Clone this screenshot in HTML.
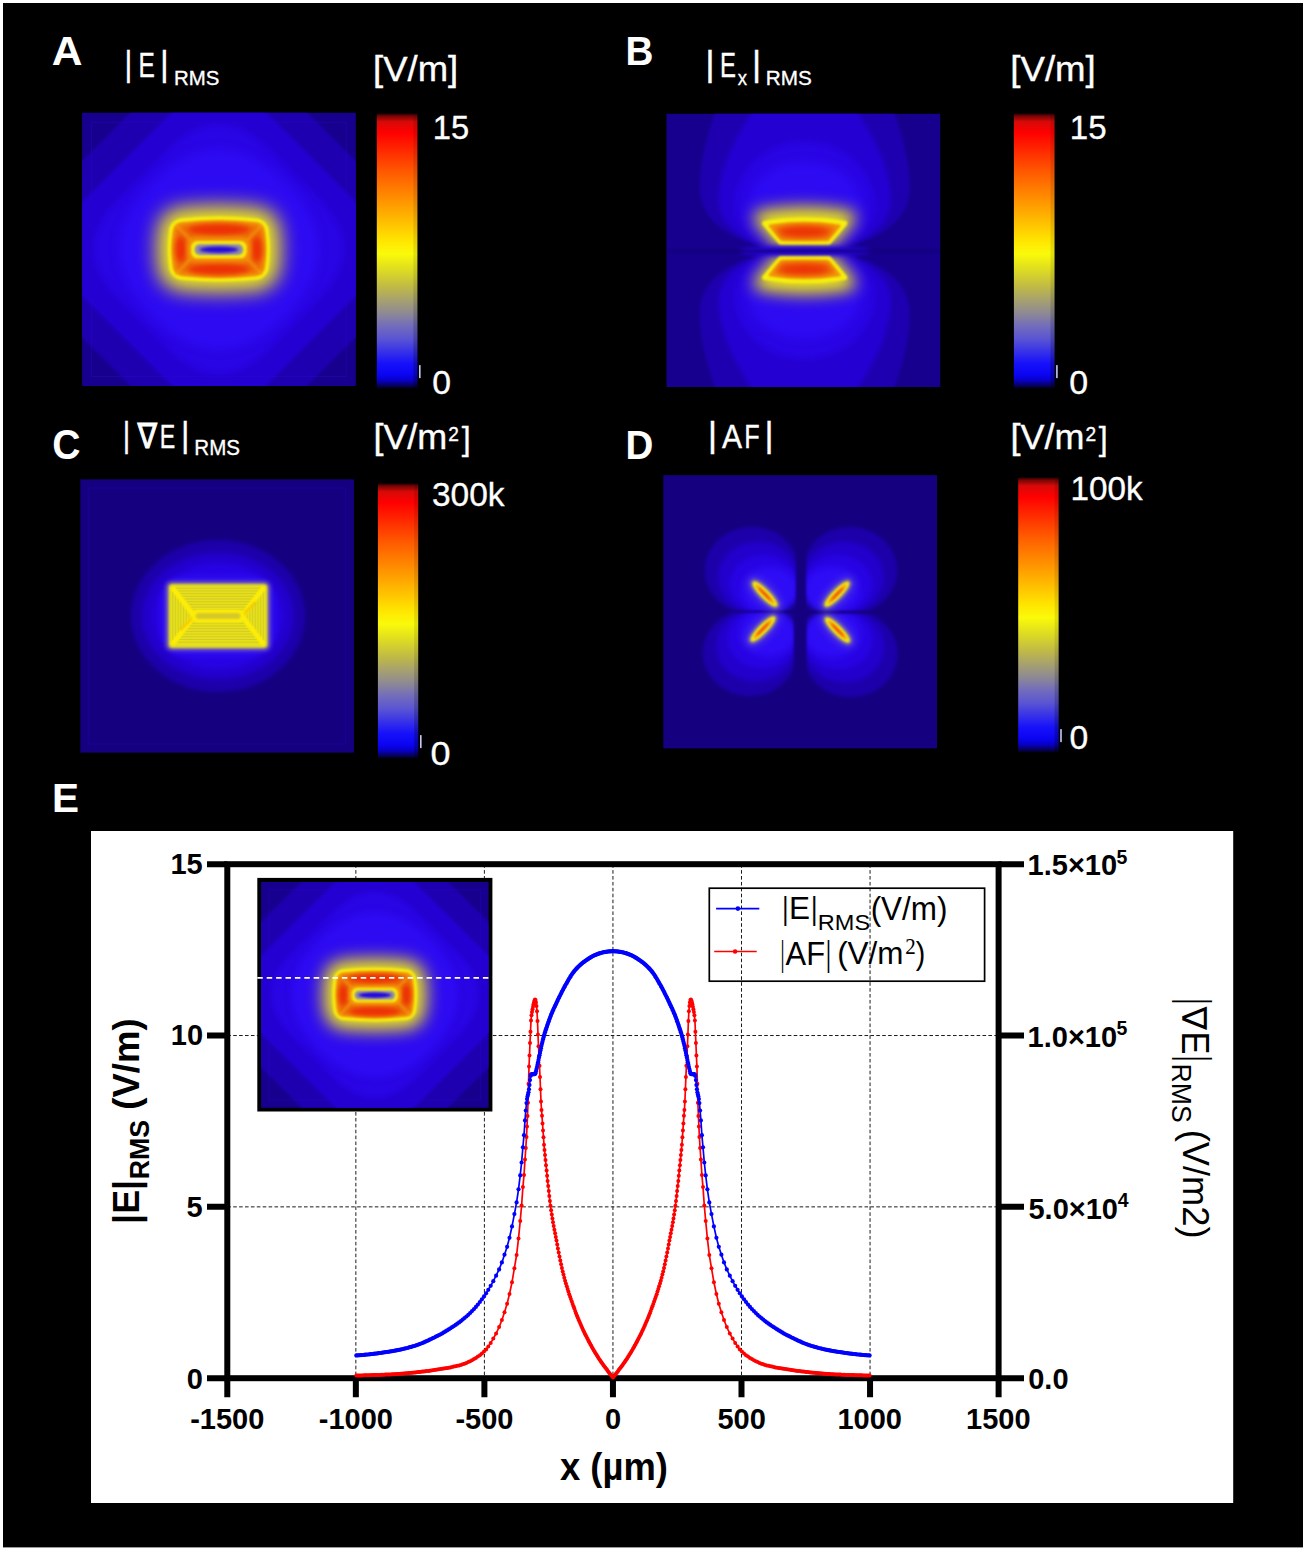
<!DOCTYPE html>
<html lang="en"><head><meta charset="utf-8"><title>Figure</title>
<style>html,body{margin:0;padding:0;background:#fff;}svg{display:block;}text{white-space:pre;}</style></head><body>
<svg width="1306" height="1550" viewBox="0 0 1306 1550">
<defs><linearGradient id="cb" x1="0" y1="0" x2="0" y2="1"><stop offset="0" stop-color="rgb(40,0,0)"/><stop offset="0.01" stop-color="rgb(120,5,5)"/><stop offset="0.03" stop-color="rgb(215,10,8)"/><stop offset="0.07" stop-color="rgb(255,0,0)"/><stop offset="0.13" stop-color="rgb(255,38,0)"/><stop offset="0.21" stop-color="rgb(255,88,0)"/><stop offset="0.3" stop-color="rgb(255,138,0)"/><stop offset="0.39" stop-color="rgb(255,188,0)"/><stop offset="0.46" stop-color="rgb(255,228,0)"/><stop offset="0.51" stop-color="rgb(250,250,10)"/><stop offset="0.56" stop-color="rgb(226,224,30)"/><stop offset="0.63" stop-color="rgb(192,186,70)"/><stop offset="0.68" stop-color="rgb(166,160,112)"/><stop offset="0.73" stop-color="rgb(140,135,150)"/><stop offset="0.77" stop-color="rgb(116,110,186)"/><stop offset="0.82" stop-color="rgb(90,84,212)"/><stop offset="0.87" stop-color="rgb(52,46,235)"/><stop offset="0.91" stop-color="rgb(22,16,250)"/><stop offset="0.95" stop-color="rgb(10,4,242)"/><stop offset="0.97" stop-color="rgb(8,0,200)"/><stop offset="0.99" stop-color="rgb(6,0,90)"/><stop offset="1" stop-color="rgb(0,0,20)"/></linearGradient><linearGradient id="cbsh" x1="0" y1="0" x2="0" y2="1"><stop offset="0" stop-color="#000" stop-opacity="0.12"/><stop offset="0.6" stop-color="#000" stop-opacity="0.1"/><stop offset="1" stop-color="#000" stop-opacity="0.3"/></linearGradient><filter id="b08" filterUnits="userSpaceOnUse" x="-320" y="-320" width="960" height="960" color-interpolation-filters="sRGB"><feGaussianBlur stdDeviation="0.8"/></filter><filter id="b1" filterUnits="userSpaceOnUse" x="-320" y="-320" width="960" height="960" color-interpolation-filters="sRGB"><feGaussianBlur stdDeviation="1.0"/></filter><filter id="b13" filterUnits="userSpaceOnUse" x="-320" y="-320" width="960" height="960" color-interpolation-filters="sRGB"><feGaussianBlur stdDeviation="1.3"/></filter><filter id="b16" filterUnits="userSpaceOnUse" x="-320" y="-320" width="960" height="960" color-interpolation-filters="sRGB"><feGaussianBlur stdDeviation="1.6"/></filter><filter id="b2" filterUnits="userSpaceOnUse" x="-320" y="-320" width="960" height="960" color-interpolation-filters="sRGB"><feGaussianBlur stdDeviation="2.0"/></filter><filter id="b25" filterUnits="userSpaceOnUse" x="-320" y="-320" width="960" height="960" color-interpolation-filters="sRGB"><feGaussianBlur stdDeviation="2.5"/></filter><filter id="b3" filterUnits="userSpaceOnUse" x="-320" y="-320" width="960" height="960" color-interpolation-filters="sRGB"><feGaussianBlur stdDeviation="3.0"/></filter><filter id="b4" filterUnits="userSpaceOnUse" x="-320" y="-320" width="960" height="960" color-interpolation-filters="sRGB"><feGaussianBlur stdDeviation="4.0"/></filter><filter id="b5" filterUnits="userSpaceOnUse" x="-320" y="-320" width="960" height="960" color-interpolation-filters="sRGB"><feGaussianBlur stdDeviation="5.0"/></filter><filter id="b6" filterUnits="userSpaceOnUse" x="-320" y="-320" width="960" height="960" color-interpolation-filters="sRGB"><feGaussianBlur stdDeviation="6.0"/></filter><filter id="b8" filterUnits="userSpaceOnUse" x="-320" y="-320" width="960" height="960" color-interpolation-filters="sRGB"><feGaussianBlur stdDeviation="8.0"/></filter><filter id="b10" filterUnits="userSpaceOnUse" x="-320" y="-320" width="960" height="960" color-interpolation-filters="sRGB"><feGaussianBlur stdDeviation="10.0"/></filter><filter id="b12" filterUnits="userSpaceOnUse" x="-320" y="-320" width="960" height="960" color-interpolation-filters="sRGB"><feGaussianBlur stdDeviation="12.0"/></filter><filter id="b18" filterUnits="userSpaceOnUse" x="-320" y="-320" width="960" height="960" color-interpolation-filters="sRGB"><feGaussianBlur stdDeviation="18.0"/></filter><clipPath id="cpH"><rect x="0" y="0" width="273.7" height="273.2"/></clipPath><g id="hmA"><rect x="0" y="0" width="273.7" height="273.2" fill="#17008e"/><g clip-path="url(#cpH)"><path d="M115.59 -67.49Q136.8 -88.7 158.01 -67.49L340.59 115.09Q361.8 136.3 340.59 157.51L158.01 340.09Q136.8 361.3 115.59 340.09L-66.99 157.51Q-88.2 136.3 -66.99 115.09Z" fill="#1f00b0" filter="url(#b13)"/><path d="M108.52 -19.42Q136.8 -47.7 165.08 -19.42L292.52 108.02Q320.8 136.3 292.52 164.58L165.08 292.02Q136.8 320.3 108.52 292.02L-18.92 164.58Q-47.2 136.3 -18.92 108.02Z" fill="#2500d2" filter="url(#b16)"/><path d="M87.3 35.8Q136.8 -13.7 186.3 35.8L237.3 86.8Q286.8 136.3 237.3 185.8L186.3 236.8Q136.8 286.3 87.3 236.8L36.3 185.8Q-13.2 136.3 36.3 86.8Z" fill="#2904e4" filter="url(#b3)"/><path d="M69.62 69.48Q136.8 2.3 203.98 69.48L203.62 69.12Q270.8 136.3 203.62 203.48L203.98 203.12Q136.8 270.3 69.62 203.12L69.98 203.48Q2.8 136.3 69.98 69.12Z" fill="#2d0af2" filter="url(#b4)"/><rect x="9.5" y="9.5" width="254.7" height="254.2" fill="none" stroke="#2a08d0" stroke-width="1.1" opacity="0.35"/><g transform="translate(136.8 136.3)"><path d="M-36.3 -41.7Q0 -45.3 36.3 -41.7A24.5 24.5 0 0 1 60.8 -17.2Q63.2 0 60.8 17.2A24.5 24.5 0 0 1 36.3 41.7Q0 45.3 -36.3 41.7A24.5 24.5 0 0 1 -60.8 17.2Q-63.2 0 -60.8 -17.2A24.5 24.5 0 0 1 -36.3 -41.7Z" fill="#efe714" filter="url(#b10)"/><path d="M-36.3 -30.7Q0 -34.3 36.3 -30.7A13.5 13.5 0 0 1 49.8 -17.2Q52.2 0 49.8 17.2A13.5 13.5 0 0 1 36.3 30.7Q0 34.3 -36.3 30.7A13.5 13.5 0 0 1 -49.8 17.2Q-52.2 0 -49.8 -17.2A13.5 13.5 0 0 1 -36.3 -30.7Z" fill="#f6ee0e" filter="url(#b1)"/><path d="M-36.3 -27.1Q0 -30.7 36.3 -27.1A9.9 9.9 0 0 1 46.2 -17.2Q48.6 0 46.2 17.2A9.9 9.9 0 0 1 36.3 27.1Q0 30.7 -36.3 27.1A9.9 9.9 0 0 1 -46.2 17.2Q-48.6 0 -46.2 -17.2A9.9 9.9 0 0 1 -36.3 -27.1Z" fill="#f29a0a" filter="url(#b13)"/><path d="M-36.3 -24.2Q0 -27.8 36.3 -24.2A7 7 0 0 1 43.3 -17.2Q45.7 0 43.3 17.2A7 7 0 0 1 36.3 24.2Q0 27.8 -36.3 24.2A7 7 0 0 1 -43.3 17.2Q-45.7 0 -43.3 -17.2A7 7 0 0 1 -36.3 -24.2Z" fill="#ee6c08" filter="url(#b2)"/><g fill="#ec3006" filter="url(#b25)"><ellipse cx="0" cy="-19.6" rx="31" ry="5.4"/><ellipse cx="0" cy="20.2" rx="31" ry="5.4"/><ellipse cx="-38" cy="0.3" rx="5.2" ry="13"/><ellipse cx="38" cy="0.3" rx="5.2" ry="13"/></g><path d="M-27 -7.5L-43 -24.5M27 -7.5L43 -24.5M-27 8.3L-43 25.3M27 8.3L43 25.3" stroke="#f7a412" stroke-width="2.6" fill="none" filter="url(#b16)" opacity="0.6"/><rect x="-31.5" y="-11.5" width="63" height="24" rx="8" fill="#f39a0a" filter="url(#b2)" opacity="0.9"/><rect x="-27.8" y="-8.2" width="55.6" height="17.4" rx="6.5" fill="#f6ec0e" filter="url(#b1)"/><rect x="-24.2" y="-4.8" width="48.4" height="10.6" rx="5" fill="#8f8aa8" filter="url(#b13)"/><ellipse cx="0" cy="0.5" rx="19.5" ry="3.1" fill="#2206dc" filter="url(#b16)"/></g></g></g><clipPath id="cpQ"><rect x="-140" y="-140" width="134.8" height="138.0"/></clipPath><g id="lobeD"><g filter="url(#b13)"><g clip-path="url(#cpQ)"><ellipse cx="-49" cy="-42" rx="47" ry="43.5" fill="#1d00aa" filter="url(#b16)"/><ellipse cx="-43" cy="-35" rx="40" ry="36" fill="#2300cc" filter="url(#b2)"/><ellipse cx="-37" cy="-28" rx="34" ry="29.5" fill="#2803e4" filter="url(#b25)"/><ellipse cx="-31" cy="-22" rx="28" ry="23.5" fill="#2e0cf6" filter="url(#b3)"/></g></g><g transform="translate(-36 -18.3) rotate(45.5)"><ellipse cx="0" cy="0" rx="22" ry="8.5" fill="#7068c4" opacity="0.55" filter="url(#b4)"/><ellipse cx="0" cy="0" rx="18" ry="4.8" fill="#e8e01a" filter="url(#b2)"/><ellipse cx="0" cy="0" rx="16.6" ry="3.5" fill="#f6ee0e" filter="url(#b08)"/><ellipse cx="0" cy="0" rx="13.5" ry="2.1" fill="#f59a08" filter="url(#b08)"/><ellipse cx="0" cy="0" rx="9" ry="1.0" fill="#ee4a06" filter="url(#b08)"/></g></g><marker id="mb" markerUnits="userSpaceOnUse" markerWidth="6" markerHeight="6" refX="3" refY="3"><circle cx="3" cy="3" r="2.1" fill="#0000ff"/></marker><marker id="mr" markerUnits="userSpaceOnUse" markerWidth="6" markerHeight="6" refX="3" refY="3"><circle cx="3" cy="3" r="2.0" fill="#ff0000"/></marker></defs>
<rect x="0" y="0" width="1306" height="1550" fill="#fff"/>
<rect x="3" y="3" width="1300" height="1544.4" fill="#000"/>
<text transform="matrix(1.0407 0 0 1 51.64 65.4)" font-size="40.87" font-weight="700" fill="#fff" font-family="Liberation Sans, Arial, sans-serif">A</text>
<text transform="matrix(0.9399 0 0 1 625.49 64.7)" font-size="41.16" font-weight="700" fill="#fff" font-family="Liberation Sans, Arial, sans-serif">B</text>
<text transform="matrix(0.9156 0 0 1 52.24 459.07)" font-size="42.69" font-weight="700" fill="#fff" font-family="Liberation Sans, Arial, sans-serif">C</text>
<text transform="matrix(0.9495 0 0 1 625.5 458.6)" font-size="40.58" font-weight="700" fill="#fff" font-family="Liberation Sans, Arial, sans-serif">D</text>
<text transform="matrix(0.9778 0 0 1 51.96 812.4)" font-size="41.45" font-weight="700" fill="#fff" font-family="Liberation Sans, Arial, sans-serif">E</text>
<text transform="matrix(0.8601 0 0 1 124.6 75.99)" font-size="34.88" font-weight="400" fill="#fff" font-family="Liberation Sans, Arial, sans-serif" stroke="#fff" stroke-width="0.35">|</text>
<text transform="matrix(0.7172 0 0 1 138.38 76.7)" font-size="34.18" font-weight="400" fill="#fff" font-family="Liberation Sans, Arial, sans-serif" stroke="#fff" stroke-width="0.35">E</text>
<text transform="matrix(0.9676 0 0 1 160.06 75.99)" font-size="34.88" font-weight="400" fill="#fff" font-family="Liberation Sans, Arial, sans-serif" stroke="#fff" stroke-width="0.35">|</text>
<text transform="matrix(0.9957 0 0 1 173.92 84.9)" font-size="20.49" font-weight="400" fill="#fff" font-family="Liberation Sans, Arial, sans-serif" stroke="#fff" stroke-width="0.35">RMS</text>
<text transform="matrix(1.0457 0 0 1 705.24 75.83)" font-size="34.67" font-weight="400" fill="#fff" font-family="Liberation Sans, Arial, sans-serif" stroke="#fff" stroke-width="0.35">|</text>
<text transform="matrix(0.7010 0 0 1 720.02 76.8)" font-size="34.18" font-weight="400" fill="#fff" font-family="Liberation Sans, Arial, sans-serif" stroke="#fff" stroke-width="0.35">E</text>
<text transform="matrix(0.8966 0 0 1 737.87 85.1)" font-size="20.66" font-weight="400" fill="#fff" font-family="Liberation Sans, Arial, sans-serif" stroke="#fff" stroke-width="0.35">x</text>
<text transform="matrix(1.0096 0 0 1 751.95 75.83)" font-size="34.67" font-weight="400" fill="#fff" font-family="Liberation Sans, Arial, sans-serif" stroke="#fff" stroke-width="0.35">|</text>
<text transform="matrix(0.9892 0 0 1 765.79 84.89)" font-size="20.92" font-weight="400" fill="#fff" font-family="Liberation Sans, Arial, sans-serif" stroke="#fff" stroke-width="0.35">RMS</text>
<text transform="matrix(0.8397 0 0 1 122.81 446.62)" font-size="34.24" font-weight="400" fill="#fff" font-family="Liberation Sans, Arial, sans-serif" stroke="#fff" stroke-width="0.35">|</text>
<text transform="matrix(0.8403 0 0 1 137.57 447.9)" font-size="34.86" font-weight="400" fill="#fff" font-family="DejaVu Sans, Liberation Sans, sans-serif" stroke="#fff" stroke-width="0.9">∇</text>
<text transform="matrix(0.6853 0 0 1 159.78 447.6)" font-size="33.89" font-weight="400" fill="#fff" font-family="Liberation Sans, Arial, sans-serif" stroke="#fff" stroke-width="0.35">E</text>
<text transform="matrix(0.9492 0 0 1 180.98 446.62)" font-size="34.24" font-weight="400" fill="#fff" font-family="Liberation Sans, Arial, sans-serif" stroke="#fff" stroke-width="0.35">|</text>
<text transform="matrix(0.9503 0 0 1 194.3 455.38)" font-size="21.63" font-weight="400" fill="#fff" font-family="Liberation Sans, Arial, sans-serif" stroke="#fff" stroke-width="0.35">RMS</text>
<text transform="matrix(1.0521 0 0 1 707.84 446.68)" font-size="34.45" font-weight="400" fill="#fff" font-family="Liberation Sans, Arial, sans-serif" stroke="#fff" stroke-width="0.35">|</text>
<text transform="matrix(0.8863 0 0 1 722.12 447.5)" font-size="33.89" font-weight="400" fill="#fff" font-family="Liberation Sans, Arial, sans-serif" stroke="#fff" stroke-width="0.35">A</text>
<text transform="matrix(0.7445 0 0 1 744.22 447.5)" font-size="33.89" font-weight="400" fill="#fff" font-family="Liberation Sans, Arial, sans-serif" stroke="#fff" stroke-width="0.35">F</text>
<text transform="matrix(1.0159 0 0 1 764.45 446.68)" font-size="34.45" font-weight="400" fill="#fff" font-family="Liberation Sans, Arial, sans-serif" stroke="#fff" stroke-width="0.35">|</text>
<rect x="376.8" y="113.5" width="40.6" height="275" fill="url(#cb)"/>
<rect x="413.4" y="113.5" width="4" height="275" fill="url(#cbsh)"/>
<rect x="419" y="365.1" width="1.6" height="13" fill="#c8c8f0"/>
<rect x="1013.9" y="113.5" width="40.6" height="275" fill="url(#cb)"/>
<rect x="1050.5" y="113.5" width="4" height="275" fill="url(#cbsh)"/>
<rect x="1056.1" y="365.1" width="1.6" height="13" fill="#c8c8f0"/>
<rect x="377.9" y="483.5" width="40.3" height="275" fill="url(#cb)"/>
<rect x="414.2" y="483.5" width="4" height="275" fill="url(#cbsh)"/>
<rect x="420" y="735.1" width="1.6" height="13" fill="#c8c8f0"/>
<rect x="1018.2" y="477.5" width="40.4" height="275" fill="url(#cb)"/>
<rect x="1054.6" y="477.5" width="4" height="275" fill="url(#cbsh)"/>
<rect x="1060.2" y="729.1" width="1.6" height="13" fill="#c8c8f0"/>
<text transform="matrix(1.0566 0 0 1 373.05 81.43)" font-size="34.53" font-weight="400" fill="#fff" font-family="Liberation Sans, Arial, sans-serif" stroke="#fff" stroke-width="0.35">[V/m]</text>
<text transform="matrix(0.9820 0 0 1 432.85 138.57)" font-size="33.26" font-weight="400" fill="#fff" font-family="Liberation Sans, Arial, sans-serif" stroke="#fff" stroke-width="0.35">15</text>
<text transform="matrix(0.9898 0 0 1 432.25 394.26)" font-size="34.06" font-weight="400" fill="#fff" font-family="Liberation Sans, Arial, sans-serif" stroke="#fff" stroke-width="0.35">0</text>
<text transform="matrix(1.0605 0 0 1 1010.34 81.43)" font-size="34.53" font-weight="400" fill="#fff" font-family="Liberation Sans, Arial, sans-serif" stroke="#fff" stroke-width="0.35">[V/m]</text>
<text transform="matrix(0.9941 0 0 1 1069.82 138.57)" font-size="33.26" font-weight="400" fill="#fff" font-family="Liberation Sans, Arial, sans-serif" stroke="#fff" stroke-width="0.35">15</text>
<text transform="matrix(0.9960 0 0 1 1069.24 394.26)" font-size="34.06" font-weight="400" fill="#fff" font-family="Liberation Sans, Arial, sans-serif" stroke="#fff" stroke-width="0.35">0</text>
<text transform="matrix(1.0453 0 0 1 373.39 449.36)" font-size="34.42" font-weight="400" fill="#fff" font-family="Liberation Sans, Arial, sans-serif" stroke="#fff" stroke-width="0.35">[V/m</text>
<text transform="matrix(1.0453 0 0 1 1010.59 449.36)" font-size="34.42" font-weight="400" fill="#fff" font-family="Liberation Sans, Arial, sans-serif" stroke="#fff" stroke-width="0.35">[V/m</text>
<text transform="matrix(0.9595 0 0 1 448.24 440.8)" font-size="19.93" font-weight="400" fill="#fff" font-family="Liberation Sans, Arial, sans-serif" stroke="#fff" stroke-width="0.35">2</text>
<text transform="matrix(0.9626 0 0 1 461.66 449.6)" font-size="33.24" font-weight="400" fill="#fff" font-family="Liberation Sans, Arial, sans-serif" stroke="#fff" stroke-width="0.35">]</text>
<text transform="matrix(0.9595 0 0 1 1085.44 440.8)" font-size="19.93" font-weight="400" fill="#fff" font-family="Liberation Sans, Arial, sans-serif" stroke="#fff" stroke-width="0.35">2</text>
<text transform="matrix(0.9626 0 0 1 1098.86 449.6)" font-size="33.24" font-weight="400" fill="#fff" font-family="Liberation Sans, Arial, sans-serif" stroke="#fff" stroke-width="0.35">]</text>
<text transform="matrix(0.9963 0 0 1 431.94 505.5)" font-size="33.6" font-weight="400" fill="#fff" font-family="Liberation Sans, Arial, sans-serif" stroke="#fff" stroke-width="0.35">300k</text>
<text transform="matrix(1.0575 0 0 1 430.56 765.26)" font-size="34.06" font-weight="400" fill="#fff" font-family="Liberation Sans, Arial, sans-serif" stroke="#fff" stroke-width="0.35">0</text>
<text transform="matrix(0.9899 0 0 1 1070.51 499.5)" font-size="33.6" font-weight="400" fill="#fff" font-family="Liberation Sans, Arial, sans-serif" stroke="#fff" stroke-width="0.35">100k</text>
<text transform="matrix(0.9898 0 0 1 1069.55 749.46)" font-size="34.06" font-weight="400" fill="#fff" font-family="Liberation Sans, Arial, sans-serif" stroke="#fff" stroke-width="0.35">0</text>
<use href="#hmA" transform="translate(82.1 112.8)"/>
<g transform="translate(666.5 113.8)"><rect x="0" y="0" width="273.7" height="273.2" fill="#17008e"/><g clip-path="url(#cpH)"><path d="M138.2 136.6C76.2 136.6 33.2 112 33.2 74C33.2 40 45.2 10 52.2 -12L224.2 -12C231.2 10 243.2 40 243.2 74C243.2 112 200.2 136.6 138.2 136.6Z" fill="#1f00b0" filter="url(#b16)"/><path d="M138.2 136.6C86.2 136.6 52.2 116 52.2 86C52.2 50 74.2 15 92.2 -12L184.2 -12C202.2 15 224.2 50 224.2 86C224.2 116 190.2 136.6 138.2 136.6Z" fill="#2500d2" filter="url(#b2)"/><path d="M138.2 136.6C94.2 136.6 68.2 118 68.2 92C68.2 60 96.2 28 138.2 28C180.2 28 208.2 60 208.2 92C208.2 118 182.2 136.6 138.2 136.6Z" fill="#2904e4" filter="url(#b3)"/><path d="M138.2 136.6C100.2 136.6 80.2 120 80.2 98C80.2 72 102.2 48 138.2 48C174.2 48 196.2 72 196.2 98C196.2 120 176.2 136.6 138.2 136.6Z" fill="#2d0af2" filter="url(#b4)"/><path d="M138.2 136.6C76.2 136.6 33.2 161.2 33.2 199.2C33.2 233.2 45.2 263.2 52.2 285.2L224.2 285.2C231.2 263.2 243.2 233.2 243.2 199.2C243.2 161.2 200.2 136.6 138.2 136.6Z" fill="#1f00b0" filter="url(#b16)"/><path d="M138.2 136.6C86.2 136.6 52.2 157.2 52.2 187.2C52.2 223.2 74.2 258.2 92.2 285.2L184.2 285.2C202.2 258.2 224.2 223.2 224.2 187.2C224.2 157.2 190.2 136.6 138.2 136.6Z" fill="#2500d2" filter="url(#b2)"/><path d="M138.2 136.6C94.2 136.6 68.2 155.2 68.2 181.2C68.2 213.2 96.2 245.2 138.2 245.2C180.2 245.2 208.2 213.2 208.2 181.2C208.2 155.2 182.2 136.6 138.2 136.6Z" fill="#2904e4" filter="url(#b3)"/><path d="M138.2 136.6C100.2 136.6 80.2 153.2 80.2 175.2C80.2 201.2 102.2 225.2 138.2 225.2C174.2 225.2 196.2 201.2 196.2 175.2C196.2 153.2 176.2 136.6 138.2 136.6Z" fill="#2d0af2" filter="url(#b4)"/><path d="M94.9 104Q138.2 96.2 181.5 104L163.2 125.7L113.2 125.7Z" fill="#e8e018" stroke="#e8e018" stroke-width="15" stroke-linejoin="round" filter="url(#b8)"/><path d="M94.9 169.2Q138.2 177 181.5 169.2L163.2 147.5L113.2 147.5Z" fill="#e8e018" stroke="#e8e018" stroke-width="15" stroke-linejoin="round" filter="url(#b8)"/><ellipse cx="138.2" cy="137.2" rx="66" ry="5.6" fill="#2906e6" filter="url(#b2)"/><rect x="-5" y="135.6" width="285" height="3.4" fill="#13007a" opacity="0.85" filter="url(#b16)"/><path d="M98.13 109.5Q138.2 102.82 178.27 109.5L162.5 128.2L113.9 128.2Z" fill="#f6ee0e" stroke="#f6ee0e" stroke-width="5" stroke-linejoin="round" filter="url(#b1)"/><path d="M103.72 112.1Q138.2 107.16 172.68 112.1L161.29 125.6L115.11 125.6Z" fill="#f29a0a" stroke="#f29a0a" stroke-width="3" stroke-linejoin="round" filter="url(#b13)"/><path d="M108.46 114.3Q138.2 110.62 167.94 114.3L160.27 123.4L116.13 123.4Z" fill="#ee6c08" stroke="#ee6c08" stroke-width="2" stroke-linejoin="round" filter="url(#b2)"/><ellipse cx="137.7" cy="117.8" rx="25" ry="5.2" fill="#ec3006" filter="url(#b3)"/><path d="M98.13 163.7Q138.2 170.38 178.27 163.7L162.5 145L113.9 145Z" fill="#f6ee0e" stroke="#f6ee0e" stroke-width="5" stroke-linejoin="round" filter="url(#b1)"/><path d="M103.72 161.1Q138.2 166.04 172.68 161.1L161.29 147.6L115.11 147.6Z" fill="#f29a0a" stroke="#f29a0a" stroke-width="3" stroke-linejoin="round" filter="url(#b13)"/><path d="M108.46 158.9Q138.2 162.58 167.94 158.9L160.27 149.8L116.13 149.8Z" fill="#ee6c08" stroke="#ee6c08" stroke-width="2" stroke-linejoin="round" filter="url(#b2)"/><ellipse cx="137.7" cy="155.4" rx="25" ry="5.2" fill="#ec3006" filter="url(#b3)"/></g></g>
<g transform="translate(80.3 479.4)"><rect x="0" y="0" width="273.7" height="273.2" fill="#150080"/><g clip-path="url(#cpH)"><rect x="8.5" y="8.5" width="256.7" height="256.2" fill="none" stroke="#1b0098" stroke-width="1.2" opacity="0.8"/><ellipse cx="137.75" cy="136.6" rx="87" ry="76" fill="#1d00aa" filter="url(#b2)"/><ellipse cx="137.75" cy="136.6" rx="76" ry="63.5" fill="#2300cc" filter="url(#b25)"/><ellipse cx="137.75" cy="136.6" rx="65" ry="53" fill="#2803e4" filter="url(#b3)"/><rect x="81.75" y="97.6" width="112" height="78" rx="22" fill="#2e0cf6" filter="url(#b3)"/><g transform="translate(137.75 136.6)"><rect x="-50.8" y="-33.3" width="101.6" height="66.6" rx="3" fill="#c8c260" opacity="0.85" filter="url(#b25)"/><rect x="-48.9" y="-31.4" width="97.8" height="62.8" rx="3" fill="#e6e018" filter="url(#b13)"/><path d="M-42.43 -27.8H42.43M-40.3 -25.1H40.3M-38.17 -22.4H38.17M-36.04 -19.7H36.04M-33.91 -17H33.91M-31.78 -14.3H31.78M-29.65 -11.6H29.65M-27.52 -8.9H27.52M-25.39 -6.2H25.39M-26.26 7.3H26.26M-28.39 10H28.39M-30.52 12.7H30.52M-32.65 15.4H32.65M-34.78 18.1H34.78M-36.91 20.8H36.91M-39.04 23.5H39.04M-41.17 26.2H41.17" stroke="#c4b838" stroke-width="0.9" opacity="0.6" fill="none"/><path d="M-45.3 -24V24M45.3 -24V24M-42.6 -20.58V20.58M42.6 -20.58V20.58M-39.9 -17.15V17.15M39.9 -17.15V17.15M-37.2 -13.73V13.73M37.2 -13.73V13.73M-34.5 -10.31V10.31M34.5 -10.31V10.31M-31.8 -6.89V6.89M31.8 -6.89V6.89M-29.1 -3.46V3.46M29.1 -3.46V3.46" stroke="#c4b838" stroke-width="0.9" opacity="0.5" fill="none"/><path d="M-45.8 -28.6L-24 0L-45.8 28.6M45.8 -28.6L24 0L45.8 28.6" stroke="#fdee06" stroke-width="4.6" fill="none" stroke-linejoin="round" filter="url(#b13)"/><path d="M-24.5 0.8L-37 13.5M24.5 -0.8L37 -13.5" stroke="#f4b000" stroke-width="1.6" fill="none" stroke-linecap="round" filter="url(#b08)"/><rect x="-26" y="-6.2" width="52" height="12.4" rx="5" fill="#fdee06" filter="url(#b08)"/><rect x="-22.4" y="-3.0" width="44.8" height="6.0" rx="2.8" fill="#d6c828" filter="url(#b08)"/></g></g></g>
<g transform="translate(663.3 475.2)"><rect x="0" y="0" width="273.7" height="273.2" fill="#150080"/><g clip-path="url(#cpH)"><use href="#lobeD" transform="translate(137.6 137.2)"/><use href="#lobeD" transform="translate(137.7 137.2) scale(-1 1)"/><use href="#lobeD" transform="translate(135.6 135.5) scale(1 -1)"/><use href="#lobeD" transform="translate(138.2 136.5) scale(-1 -1)"/></g></g>
<rect x="91" y="831" width="1142.2" height="672" fill="#fff"/>
<path d="M355.85 864.2V1378.2M484.4 864.2V1378.2M612.95 864.2V1378.2M741.5 864.2V1378.2M870.05 864.2V1378.2M227.3 1206.87H998.6M227.3 1035.53H998.6" stroke="#1c1c1c" stroke-width="1" stroke-dasharray="3.6 2.3" fill="none"/>
<rect x="257.3" y="877.9" width="235.1" height="233.6" fill="#000"/>
<use href="#hmA" transform="translate(261.1 882.0) scale(0.8312 0.8265)"/>
<path d="M257.3 977.9H492.4" stroke="#fff" stroke-width="1.7" stroke-dasharray="5.5 3.9" fill="none"/>
<rect x="227.3" y="864.2" width="771.3" height="514" fill="none" stroke="#000" stroke-width="6"/>
<path d="M207 1378.2H227.3M998.6 1378.2H1024M207 1206.87H227.3M998.6 1206.87H1024M207 1035.53H227.3M998.6 1035.53H1024M207 864.2H227.3M998.6 864.2H1024M227.3 1378.2V1397.3M355.85 1378.2V1397.3M484.4 1378.2V1397.3M612.95 1378.2V1397.3M741.5 1378.2V1397.3M870.05 1378.2V1397.3M998.6 1378.2V1397.3" stroke="#000" stroke-width="6" fill="none"/>
<polyline points="356.3,1375.4 357.6,1375.4 358.9,1375.4 360.2,1375.4 361.5,1375.4 362.8,1375.4 364.1,1375.3 365.4,1375.3 366.8,1375.3 368.1,1375.2 369.4,1375.2 370.7,1375.2 372.0,1375.1 373.4,1375.1 374.7,1375.1 376.0,1375.0 377.4,1375.0 378.7,1374.9 380.0,1374.9 381.4,1374.8 382.7,1374.8 384.0,1374.7 385.4,1374.6 386.7,1374.6 388.1,1374.5 389.4,1374.5 390.8,1374.4 392.1,1374.3 393.5,1374.3 394.9,1374.2 396.2,1374.1 397.6,1374.0 398.9,1373.9 400.3,1373.8 401.7,1373.7 403.0,1373.6 404.4,1373.4 405.8,1373.3 407.2,1373.2 408.6,1373.1 409.9,1372.9 411.3,1372.8 412.7,1372.7 414.1,1372.5 415.5,1372.4 416.9,1372.3 418.3,1372.1 419.7,1372.0 421.1,1371.8 422.5,1371.6 423.9,1371.5 425.3,1371.3 426.8,1371.1 428.3,1370.9 429.7,1370.7 431.2,1370.5 432.8,1370.3 434.3,1370.1 435.8,1369.8 437.4,1369.6 439.0,1369.3 440.6,1369.1 442.2,1368.8 443.8,1368.6 445.4,1368.3 447.1,1368.0 448.7,1367.7 450.4,1367.4 452.1,1367.0 453.9,1366.6 455.6,1366.2 457.3,1365.8 459.1,1365.4 460.9,1364.9 462.7,1364.3 464.5,1363.7 466.4,1363.0 468.3,1362.1 470.1,1361.2 472.0,1360.2 474.0,1359.1 475.9,1357.9 477.9,1356.6 479.9,1355.2 481.9,1353.5 484.0,1351.6 486.1,1349.4 488.3,1346.5 490.7,1342.9 493.3,1338.6 496.1,1333.5 499.1,1327.1 501.9,1320.0 504.5,1312.2 507.1,1303.8 509.5,1294.0 512.0,1282.2 514.4,1268.2 516.6,1255.0 518.5,1238.6 520.2,1221.1 521.6,1205.5 522.9,1187.1 524.0,1175.0 525.0,1159.6 525.8,1148.0 526.5,1137.1 527.0,1126.4 527.5,1116.0 528.0,1102.8 528.5,1083.8 529.0,1066.6 529.5,1055.5 530.0,1043.1 530.5,1031.8 531.0,1020.6 531.5,1015.2 532.0,1011.9 532.5,1009.3 533.0,1006.7 533.5,1004.2 534.0,1002.3 534.5,1000.6 535.0,999.6 535.5,1000.1 536.0,1002.6 536.5,1005.9 537.0,1011.3 537.5,1021.0 538.0,1034.5 538.5,1046.2 539.0,1055.9 539.5,1065.8 540.0,1077.0 540.5,1089.2 541.0,1101.4 541.5,1110.1 542.0,1115.8 542.5,1123.4 543.0,1130.6 543.5,1137.3 544.0,1144.7 544.5,1149.9 545.0,1154.9 545.5,1160.1 546.0,1165.3 546.6,1170.6 547.1,1175.8 547.6,1181.0 548.2,1186.0 548.8,1191.0 549.3,1196.0 549.9,1201.0 550.5,1205.7 551.1,1210.2 551.8,1214.4 552.4,1218.4 553.0,1222.3 553.7,1226.0 554.4,1229.7 555.1,1233.3 555.8,1236.9 556.5,1240.6 557.2,1244.5 557.9,1248.4 558.7,1252.4 559.5,1256.5 560.3,1260.4 561.1,1264.3 561.9,1268.0 562.7,1271.4 563.5,1274.6 564.3,1277.7 565.1,1280.7 565.9,1283.5 566.8,1286.3 567.6,1289.0 568.4,1291.6 569.2,1294.2 570.1,1296.7 570.9,1299.1 571.8,1301.6 572.6,1304.0 573.5,1306.3 574.3,1308.6 575.2,1310.9 576.0,1313.2 576.9,1315.4 577.7,1317.6 578.6,1319.7 579.5,1321.8 580.4,1323.8 581.2,1325.8 582.1,1327.8 583.0,1329.7 583.9,1331.6 584.8,1333.4 585.7,1335.3 586.6,1337.0 587.5,1338.8 588.4,1340.5 589.3,1342.2 590.2,1343.9 591.1,1345.6 592.0,1347.2 592.9,1348.8 593.9,1350.4 594.8,1351.9 595.7,1353.5 596.7,1355.0 597.6,1356.5 598.5,1358.0 599.5,1359.4 600.4,1360.8 601.4,1362.2 602.3,1363.6 603.3,1364.9 604.3,1366.2 605.2,1367.5 606.2,1368.8 607.2,1370.1 608.1,1371.4 609.1,1372.7 610.1,1373.9 611.1,1375.2 612.1,1376.4 613.0,1377.4 613.8,1376.4 614.8,1375.2 615.8,1373.9 616.8,1372.7 617.8,1371.4 618.7,1370.1 619.7,1368.8 620.7,1367.5 621.6,1366.2 622.6,1364.9 623.6,1363.6 624.5,1362.2 625.5,1360.8 626.4,1359.4 627.4,1358.0 628.3,1356.5 629.2,1355.0 630.2,1353.5 631.1,1351.9 632.0,1350.4 633.0,1348.8 633.9,1347.2 634.8,1345.6 635.7,1343.9 636.6,1342.2 637.5,1340.5 638.4,1338.8 639.3,1337.0 640.2,1335.3 641.1,1333.4 642.0,1331.6 642.9,1329.7 643.8,1327.8 644.7,1325.8 645.5,1323.8 646.4,1321.8 647.3,1319.7 648.2,1317.6 649.0,1315.4 649.9,1313.2 650.7,1310.9 651.6,1308.6 652.4,1306.3 653.3,1304.0 654.1,1301.6 655.0,1299.1 655.8,1296.7 656.7,1294.2 657.5,1291.6 658.3,1289.0 659.1,1286.3 660.0,1283.5 660.8,1280.7 661.6,1277.7 662.4,1274.6 663.2,1271.4 664.0,1268.0 664.8,1264.3 665.6,1260.4 666.4,1256.5 667.2,1252.4 668.0,1248.4 668.7,1244.5 669.4,1240.6 670.1,1236.9 670.8,1233.3 671.5,1229.7 672.2,1226.0 672.9,1222.3 673.5,1218.4 674.1,1214.4 674.8,1210.2 675.4,1205.7 676.0,1201.0 676.6,1196.0 677.1,1191.0 677.7,1186.0 678.3,1181.0 678.8,1175.8 679.3,1170.6 679.9,1165.3 680.4,1160.1 680.9,1154.9 681.4,1149.9 681.9,1144.7 682.4,1137.3 682.9,1130.6 683.4,1123.4 683.9,1115.8 684.4,1110.1 684.9,1101.4 685.4,1089.2 685.9,1077.0 686.4,1065.8 686.9,1055.9 687.4,1046.2 687.9,1034.5 688.4,1021.0 688.9,1011.3 689.4,1005.9 689.9,1002.6 690.4,1000.1 690.9,999.6 691.4,1000.6 691.9,1002.3 692.4,1004.2 692.9,1006.7 693.4,1009.3 693.9,1011.9 694.4,1015.2 694.9,1020.6 695.4,1031.8 695.9,1043.1 696.4,1055.5 696.9,1066.6 697.4,1083.8 697.9,1102.8 698.4,1116.0 698.9,1126.4 699.4,1137.1 700.1,1148.0 700.9,1159.6 701.9,1175.0 703.0,1187.1 704.3,1205.5 705.7,1221.1 707.4,1238.6 709.3,1255.0 711.5,1268.2 713.9,1282.2 716.4,1294.0 718.8,1303.8 721.4,1312.2 724.0,1320.0 726.8,1327.1 729.8,1333.5 732.6,1338.6 735.2,1342.9 737.6,1346.5 739.8,1349.4 741.9,1351.6 744.0,1353.5 746.0,1355.2 748.0,1356.6 750.0,1357.9 751.9,1359.1 753.9,1360.2 755.8,1361.2 757.6,1362.1 759.5,1363.0 761.4,1363.7 763.2,1364.3 765.0,1364.9 766.8,1365.4 768.6,1365.8 770.3,1366.2 772.0,1366.6 773.8,1367.0 775.5,1367.4 777.2,1367.7 778.8,1368.0 780.5,1368.3 782.1,1368.6 783.7,1368.8 785.3,1369.1 786.9,1369.3 788.5,1369.6 790.1,1369.8 791.6,1370.1 793.1,1370.3 794.7,1370.5 796.2,1370.7 797.6,1370.9 799.1,1371.1 800.6,1371.3 802.0,1371.5 803.4,1371.6 804.8,1371.8 806.2,1372.0 807.6,1372.1 809.0,1372.3 810.4,1372.4 811.8,1372.5 813.2,1372.7 814.6,1372.8 816.0,1372.9 817.3,1373.1 818.7,1373.2 820.1,1373.3 821.5,1373.4 822.9,1373.6 824.2,1373.7 825.6,1373.8 827.0,1373.9 828.3,1374.0 829.7,1374.1 831.0,1374.2 832.4,1374.3 833.8,1374.3 835.1,1374.4 836.5,1374.5 837.8,1374.5 839.2,1374.6 840.5,1374.6 841.9,1374.7 843.2,1374.8 844.5,1374.8 845.9,1374.9 847.2,1374.9 848.5,1375.0 849.9,1375.0 851.2,1375.1 852.5,1375.1 853.9,1375.1 855.2,1375.2 856.5,1375.2 857.8,1375.2 859.1,1375.3 860.5,1375.3 861.8,1375.3 863.1,1375.4 864.4,1375.4 865.7,1375.4 867.0,1375.4 868.3,1375.4 869.6,1375.4" fill="none" stroke="#ff0000" stroke-width="1.7" stroke-linejoin="round" marker-start="url(#mr)" marker-mid="url(#mr)" marker-end="url(#mr)"/>
<polyline points="356.3,1355.4 357.6,1355.3 358.9,1355.3 360.2,1355.2 361.5,1355.1 362.8,1355.0 364.1,1354.9 365.4,1354.7 366.8,1354.6 368.1,1354.5 369.4,1354.3 370.7,1354.2 372.0,1354.0 373.4,1353.9 374.7,1353.7 376.0,1353.6 377.4,1353.4 378.7,1353.2 380.0,1353.0 381.4,1352.8 382.7,1352.6 384.0,1352.4 385.4,1352.2 386.7,1352.0 388.1,1351.8 389.4,1351.6 390.8,1351.4 392.1,1351.2 393.5,1351.0 394.9,1350.7 396.2,1350.4 397.6,1350.2 398.9,1349.9 400.3,1349.6 401.7,1349.3 403.0,1349.0 404.4,1348.6 405.8,1348.3 407.2,1348.0 408.6,1347.6 409.9,1347.2 411.3,1346.8 412.7,1346.4 414.1,1346.0 415.5,1345.6 416.9,1345.1 418.3,1344.6 419.7,1344.1 421.1,1343.5 422.5,1343.0 423.9,1342.4 425.3,1341.7 426.8,1341.1 428.3,1340.4 429.7,1339.7 431.2,1339.0 432.8,1338.2 434.3,1337.5 435.8,1336.7 437.4,1335.9 439.0,1335.1 440.6,1334.3 442.2,1333.4 443.8,1332.4 445.4,1331.4 447.1,1330.4 448.7,1329.4 450.4,1328.3 452.1,1327.2 453.9,1326.1 455.6,1324.9 457.3,1323.7 459.1,1322.4 460.9,1321.1 462.7,1319.6 464.5,1318.1 466.4,1316.5 468.3,1314.8 470.1,1313.0 472.0,1311.1 474.0,1309.1 475.9,1306.9 477.9,1304.6 479.9,1302.0 481.9,1299.3 484.0,1296.4 486.1,1293.3 488.3,1289.8 490.7,1285.8 493.3,1281.2 496.1,1275.7 499.1,1269.4 501.9,1262.4 504.5,1254.7 507.1,1246.8 509.5,1237.8 512.0,1226.4 514.4,1214.1 516.6,1202.4 518.5,1189.3 520.2,1175.4 521.6,1162.5 522.9,1147.3 524.0,1135.2 525.0,1120.4 525.8,1110.5 526.5,1103.1 527.0,1099.1 527.5,1096.4 528.0,1094.4 528.5,1092.3 529.0,1089.3 529.5,1085.0 530.0,1080.1 530.5,1075.9 531.0,1074.6 531.5,1074.3 532.0,1074.3 532.5,1074.2 533.0,1074.2 533.5,1074.2 534.0,1074.2 534.5,1074.1 535.0,1074.0 535.5,1073.3 536.0,1071.2 536.5,1069.1 537.0,1067.0 537.5,1064.7 538.0,1062.3 538.5,1059.9 539.0,1057.6 539.5,1055.3 540.0,1052.9 540.5,1050.5 541.0,1048.2 541.5,1045.8 542.0,1043.5 542.5,1041.4 543.0,1039.3 543.5,1037.4 544.0,1035.7 544.5,1034.0 545.0,1032.3 545.5,1030.7 546.0,1029.2 546.6,1027.6 547.1,1026.0 547.6,1024.4 548.2,1022.8 548.8,1021.2 549.3,1019.6 549.9,1018.0 550.5,1016.4 551.1,1014.8 551.8,1013.3 552.4,1011.8 553.0,1010.3 553.7,1008.8 554.4,1007.3 555.1,1005.8 555.8,1004.4 556.5,1002.9 557.2,1001.3 557.9,999.8 558.7,998.2 559.5,996.6 560.3,995.0 561.1,993.4 561.9,991.8 562.7,990.3 563.5,988.7 564.3,987.2 565.1,985.8 565.9,984.3 566.8,982.9 567.6,981.4 568.4,980.0 569.2,978.6 570.1,977.2 570.9,975.8 571.8,974.5 572.6,973.3 573.5,972.2 574.3,971.1 575.2,970.1 576.0,969.2 576.9,968.2 577.7,967.3 578.6,966.5 579.5,965.6 580.4,964.8 581.2,964.1 582.1,963.3 583.0,962.6 583.9,961.9 584.8,961.3 585.7,960.6 586.6,960.0 587.5,959.4 588.4,958.8 589.3,958.2 590.2,957.7 591.1,957.1 592.0,956.6 592.9,956.1 593.9,955.6 594.8,955.2 595.7,954.8 596.7,954.4 597.6,954.1 598.5,953.7 599.5,953.4 600.4,953.1 601.4,952.8 602.3,952.5 603.3,952.3 604.3,952.1 605.2,951.9 606.2,951.8 607.2,951.7 608.1,951.5 609.1,951.4 610.1,951.3 611.1,951.3 612.1,951.2 613.0,951.2 613.8,951.2 614.8,951.3 615.8,951.3 616.8,951.4 617.8,951.5 618.7,951.7 619.7,951.8 620.7,951.9 621.6,952.1 622.6,952.3 623.6,952.5 624.5,952.8 625.5,953.1 626.4,953.4 627.4,953.7 628.3,954.1 629.2,954.4 630.2,954.8 631.1,955.2 632.0,955.6 633.0,956.1 633.9,956.6 634.8,957.1 635.7,957.7 636.6,958.2 637.5,958.8 638.4,959.4 639.3,960.0 640.2,960.6 641.1,961.3 642.0,961.9 642.9,962.6 643.8,963.3 644.7,964.1 645.5,964.8 646.4,965.6 647.3,966.5 648.2,967.3 649.0,968.2 649.9,969.2 650.7,970.1 651.6,971.1 652.4,972.2 653.3,973.3 654.1,974.5 655.0,975.8 655.8,977.2 656.7,978.6 657.5,980.0 658.3,981.4 659.1,982.9 660.0,984.3 660.8,985.8 661.6,987.2 662.4,988.7 663.2,990.3 664.0,991.8 664.8,993.4 665.6,995.0 666.4,996.6 667.2,998.2 668.0,999.8 668.7,1001.3 669.4,1002.9 670.1,1004.4 670.8,1005.8 671.5,1007.3 672.2,1008.8 672.9,1010.3 673.5,1011.8 674.1,1013.3 674.8,1014.8 675.4,1016.4 676.0,1018.0 676.6,1019.6 677.1,1021.2 677.7,1022.8 678.3,1024.4 678.8,1026.0 679.3,1027.6 679.9,1029.2 680.4,1030.7 680.9,1032.3 681.4,1034.0 681.9,1035.7 682.4,1037.4 682.9,1039.3 683.4,1041.4 683.9,1043.5 684.4,1045.8 684.9,1048.2 685.4,1050.5 685.9,1052.9 686.4,1055.3 686.9,1057.6 687.4,1059.9 687.9,1062.3 688.4,1064.7 688.9,1067.0 689.4,1069.1 689.9,1071.2 690.4,1073.3 690.9,1074.0 691.4,1074.1 691.9,1074.2 692.4,1074.2 692.9,1074.2 693.4,1074.2 693.9,1074.3 694.4,1074.3 694.9,1074.6 695.4,1075.9 695.9,1080.1 696.4,1085.0 696.9,1089.3 697.4,1092.3 697.9,1094.4 698.4,1096.4 698.9,1099.1 699.4,1103.1 700.1,1110.5 700.9,1120.4 701.9,1135.2 703.0,1147.3 704.3,1162.5 705.7,1175.4 707.4,1189.3 709.3,1202.4 711.5,1214.1 713.9,1226.4 716.4,1237.8 718.8,1246.8 721.4,1254.7 724.0,1262.4 726.8,1269.4 729.8,1275.7 732.6,1281.2 735.2,1285.8 737.6,1289.8 739.8,1293.3 741.9,1296.4 744.0,1299.3 746.0,1302.0 748.0,1304.6 750.0,1306.9 751.9,1309.1 753.9,1311.1 755.8,1313.0 757.6,1314.8 759.5,1316.5 761.4,1318.1 763.2,1319.6 765.0,1321.1 766.8,1322.4 768.6,1323.7 770.3,1324.9 772.0,1326.1 773.8,1327.2 775.5,1328.3 777.2,1329.4 778.8,1330.4 780.5,1331.4 782.1,1332.4 783.7,1333.4 785.3,1334.3 786.9,1335.1 788.5,1335.9 790.1,1336.7 791.6,1337.5 793.1,1338.2 794.7,1339.0 796.2,1339.7 797.6,1340.4 799.1,1341.1 800.6,1341.7 802.0,1342.4 803.4,1343.0 804.8,1343.5 806.2,1344.1 807.6,1344.6 809.0,1345.1 810.4,1345.6 811.8,1346.0 813.2,1346.4 814.6,1346.8 816.0,1347.2 817.3,1347.6 818.7,1348.0 820.1,1348.3 821.5,1348.6 822.9,1349.0 824.2,1349.3 825.6,1349.6 827.0,1349.9 828.3,1350.2 829.7,1350.4 831.0,1350.7 832.4,1351.0 833.8,1351.2 835.1,1351.4 836.5,1351.6 837.8,1351.8 839.2,1352.0 840.5,1352.2 841.9,1352.4 843.2,1352.6 844.5,1352.8 845.9,1353.0 847.2,1353.2 848.5,1353.4 849.9,1353.6 851.2,1353.7 852.5,1353.9 853.9,1354.0 855.2,1354.2 856.5,1354.3 857.8,1354.5 859.1,1354.6 860.5,1354.7 861.8,1354.9 863.1,1355.0 864.4,1355.1 865.7,1355.2 867.0,1355.3 868.3,1355.3 869.6,1355.4" fill="none" stroke="#0000ff" stroke-width="1.7" stroke-linejoin="round" marker-start="url(#mb)" marker-mid="url(#mb)" marker-end="url(#mb)"/>
<rect x="709.3" y="888.2" width="275.3" height="93" fill="none" stroke="#000" stroke-width="1.7"/>
<path d="M716.1 908.6H759.3" stroke="#0000ff" stroke-width="1.6"/><circle cx="737.9" cy="908.6" r="2.3" fill="#0000ff"/>
<path d="M714.2 951.5H756.7" stroke="#ff0000" stroke-width="1.6"/><circle cx="735.1" cy="951.5" r="2.3" fill="#ff0000"/>
<text transform="matrix(1.0000 0 0 1.04 186.87 1389.18)" font-size="29" font-weight="700" fill="#000" font-family="Liberation Sans, Arial, sans-serif">0</text>
<text transform="matrix(1.0000 0 0 1.04 186.5 1216.75)" font-size="29" font-weight="700" fill="#000" font-family="Liberation Sans, Arial, sans-serif">5</text>
<text transform="matrix(1.0000 0 0 1.04 170.77 1044.52)" font-size="29" font-weight="700" fill="#000" font-family="Liberation Sans, Arial, sans-serif">10</text>
<text transform="matrix(1.0000 0 0 1.04 170.41 873.98)" font-size="29" font-weight="700" fill="#000" font-family="Liberation Sans, Arial, sans-serif">15</text>
<text transform="matrix(1.0000 0 0 1.04 190.22 1429)" font-size="29" font-weight="700" fill="#000" font-family="Liberation Sans, Arial, sans-serif">-1500</text>
<text transform="matrix(1.0000 0 0 1.04 318.77 1429)" font-size="29" font-weight="700" fill="#000" font-family="Liberation Sans, Arial, sans-serif">-1000</text>
<text transform="matrix(1.0000 0 0 1.04 455.4 1429)" font-size="29" font-weight="700" fill="#000" font-family="Liberation Sans, Arial, sans-serif">-500</text>
<text transform="matrix(1.0000 0 0 1.04 604.9 1429)" font-size="29" font-weight="700" fill="#000" font-family="Liberation Sans, Arial, sans-serif">0</text>
<text transform="matrix(1.0000 0 0 1.04 717.43 1429)" font-size="29" font-weight="700" fill="#000" font-family="Liberation Sans, Arial, sans-serif">500</text>
<text transform="matrix(1.0000 0 0 1.04 837.5 1429)" font-size="29" font-weight="700" fill="#000" font-family="Liberation Sans, Arial, sans-serif">1000</text>
<text transform="matrix(1.0000 0 0 1.04 966.05 1429)" font-size="29" font-weight="700" fill="#000" font-family="Liberation Sans, Arial, sans-serif">1500</text>
<text transform="matrix(1.0000 0 0 1.04 1027.59 875.18)" font-size="29" font-weight="700" fill="#000" font-family="Liberation Sans, Arial, sans-serif">1.5×10</text>
<text transform="matrix(1.0000 0 0 1.04 1116.46 863.78)" font-size="19.5" font-weight="700" fill="#000" font-family="Liberation Sans, Arial, sans-serif">5</text>
<text transform="matrix(1.0000 0 0 1.04 1027.59 1046.52)" font-size="29" font-weight="700" fill="#000" font-family="Liberation Sans, Arial, sans-serif">1.0×10</text>
<text transform="matrix(1.0000 0 0 1.04 1116.46 1035.12)" font-size="19.5" font-weight="700" fill="#000" font-family="Liberation Sans, Arial, sans-serif">5</text>
<text transform="matrix(1.0000 0 0 1.04 1028.46 1218.85)" font-size="29" font-weight="700" fill="#000" font-family="Liberation Sans, Arial, sans-serif">5.0×10</text>
<text transform="matrix(1.0000 0 0 1.04 1117.67 1207.45)" font-size="19.5" font-weight="700" fill="#000" font-family="Liberation Sans, Arial, sans-serif">4</text>
<text transform="matrix(1.0000 0 0 1.04 1028.24 1389.18)" font-size="29" font-weight="700" fill="#000" font-family="Liberation Sans, Arial, sans-serif">0.0</text>
<text transform="matrix(0.9969 0 0 1.04 560.03 1479.6)" font-size="36.5" font-weight="700" fill="#000" font-family="Liberation Sans, Arial, sans-serif">x (µm)</text>
<text transform="translate(139.0,1221.6) rotate(-90) matrix(0.9894 0 0 1.04 -2.29 0)" font-size="36.3" font-weight="700" fill="#000" font-family="Liberation Sans, Arial, sans-serif">|E|</text>
<text transform="translate(139.0,1221.6) rotate(-90) matrix(1.0293 0 0 1.04 42.29 10.4)" font-size="26" font-weight="700" fill="#000" font-family="Liberation Sans, Arial, sans-serif">RMS</text>
<text transform="translate(139.0,1221.6) rotate(-90) matrix(1.0067 0 0 1.04 111.87 0)" font-size="36.3" font-weight="700" fill="#000" font-family="Liberation Sans, Arial, sans-serif">(V/m)</text>
<text transform="translate(1182.3,999.5) rotate(90) matrix(0.5381 0 0 1 -1.12 1.21)" font-size="41.81" font-weight="400" fill="#000" font-family="Liberation Sans, Arial, sans-serif">|</text>
<text transform="translate(1182.3,999.5) rotate(90) matrix(1.0271 0 0 1 7.09 0.2)" font-size="34.17" font-weight="400" fill="#000" font-family="DejaVu Sans, Liberation Sans, sans-serif">∇</text>
<text transform="translate(1182.3,999.5) rotate(90) matrix(0.8777 0 0 1 32.06 0.2)" font-size="39.27" font-weight="400" fill="#000" font-family="Liberation Sans, Arial, sans-serif">E</text>
<text transform="translate(1182.3,999.5) rotate(90) matrix(0.5381 0 0 1 56.37 1.21)" font-size="41.81" font-weight="400" fill="#000" font-family="Liberation Sans, Arial, sans-serif">|</text>
<text transform="translate(1182.3,999.5) rotate(90) matrix(0.9386 0 0 1 64 10.72)" font-size="28.41" font-weight="400" fill="#000" font-family="Liberation Sans, Arial, sans-serif">RMS</text>
<text transform="translate(1182.3,999.5) rotate(90) matrix(0.9712 0 0 1 130.13 -0.27)" font-size="37.43" font-weight="400" fill="#000" font-family="Liberation Sans, Arial, sans-serif">(V/m2)</text>
<text transform="matrix(0.7731 0 0 1 782.26 919.37)" font-size="30.72" font-weight="400" fill="#000" font-family="Liberation Sans, Arial, sans-serif">|</text>
<text transform="matrix(1.0319 0 0 1 789.1 919.1)" font-size="30.55" font-weight="400" fill="#000" font-family="Liberation Sans, Arial, sans-serif">E</text>
<text transform="matrix(0.8138 0 0 1 811.05 919.37)" font-size="30.72" font-weight="400" fill="#000" font-family="Liberation Sans, Arial, sans-serif">|</text>
<text transform="matrix(1.0529 0 0 1 817.86 929.88)" font-size="22.33" font-weight="400" fill="#000" font-family="Liberation Sans, Arial, sans-serif">RMS</text>
<text transform="matrix(0.9649 0 0 1 870.63 919.84)" font-size="32.6" font-weight="400" fill="#000" font-family="Liberation Sans, Arial, sans-serif">(V/m)</text>
<text transform="matrix(0.3825 0 0 1 780.76 965.86)" font-size="35.95" font-weight="400" fill="#000" font-family="Liberation Sans, Arial, sans-serif">|</text>
<text transform="matrix(0.9536 0 0 1 785.62 964.5)" font-size="32.44" font-weight="400" fill="#000" font-family="Liberation Sans, Arial, sans-serif">AF</text>
<text transform="matrix(0.5216 0 0 1 826.11 965.86)" font-size="35.95" font-weight="400" fill="#000" font-family="Liberation Sans, Arial, sans-serif">|</text>
<text transform="matrix(1.0070 0 0 1 837.14 964.22)" font-size="31.21" font-weight="400" fill="#000" font-family="Liberation Sans, Arial, sans-serif">(V/m</text>
<text transform="matrix(0.9275 0 0 1 905.15 954.2)" font-size="22.64" font-weight="400" fill="#000" font-family="Liberation Serif, Times New Roman, serif">2</text>
<text transform="matrix(0.9156 0 0 1 915.79 964.22)" font-size="31.21" font-weight="400" fill="#000" font-family="Liberation Sans, Arial, sans-serif">)</text>
</svg></body></html>
